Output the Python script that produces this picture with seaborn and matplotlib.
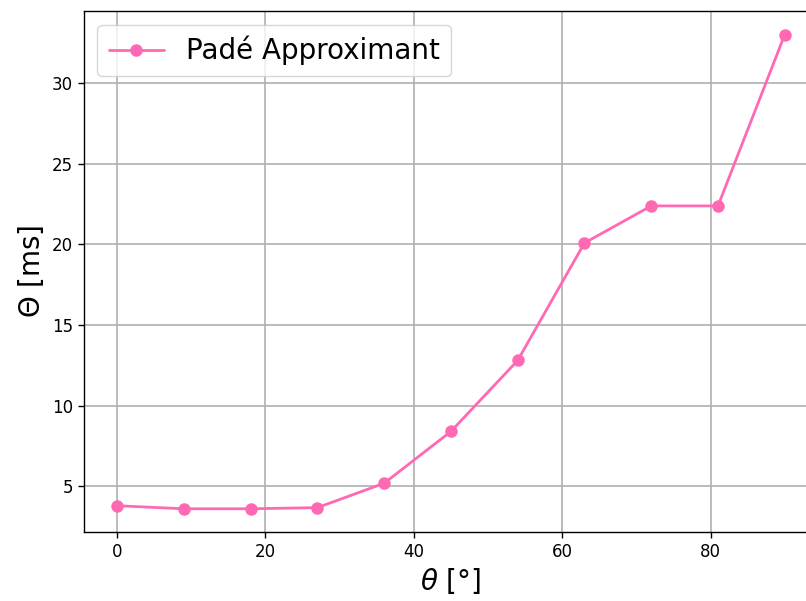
import matplotlib
matplotlib.use("Agg")
import matplotlib.pyplot as plt
import seaborn as sns
import pandas as pd

# Angle sweep and computed delay
theta_deg = [0, 9, 18, 27, 36, 45, 54, 63, 72, 81, 90]
delay_ms = [3.80, 3.61, 3.61, 3.68, 5.19, 8.40, 12.80, 20.08, 22.38, 22.38, 33.0]
series_name = "Padé Approximant"

df = pd.DataFrame({"theta": theta_deg, "delay": delay_ms})

sns.set_style("ticks")
plt.rcParams["font.family"] = ["DejaVu Sans"]
plt.rcParams["text.color"] = "black"
plt.rcParams["axes.labelcolor"] = "black"

fig = plt.figure(figsize=(8.06, 6.01), dpi=100)
ax = fig.add_axes([0.1037, 0.114, 0.9114, 0.868])

sns.lineplot(data=df, x="theta", y="delay", ax=ax, color="#ff69b4",
             marker="o", markersize=9, markeredgewidth=0, linewidth=2,
             label=series_name)

ax.grid(True, color="#b0b0b0", linewidth=1.2)
ax.set_axisbelow(True)
for s in ax.spines.values():
    s.set_color("black")
    s.set_linewidth(1.0)
ax.tick_params(axis="both", labelsize=12, length=4, width=1, colors="black")
ax.set_xlabel(r"$\theta$ [°]", fontsize=20)
ax.set_ylabel(r"$\Theta$ [ms]", fontsize=20)
ax.set_xticks([0, 20, 40, 60, 80])
ax.set_yticks([5, 10, 15, 20, 25, 30])
ax.set_xlim(-4.5, 94.5)
ax.margins(y=0.05)
ax.legend(loc="upper left", fontsize=20, frameon=True)

fig.savefig("out.png", dpi=100)
